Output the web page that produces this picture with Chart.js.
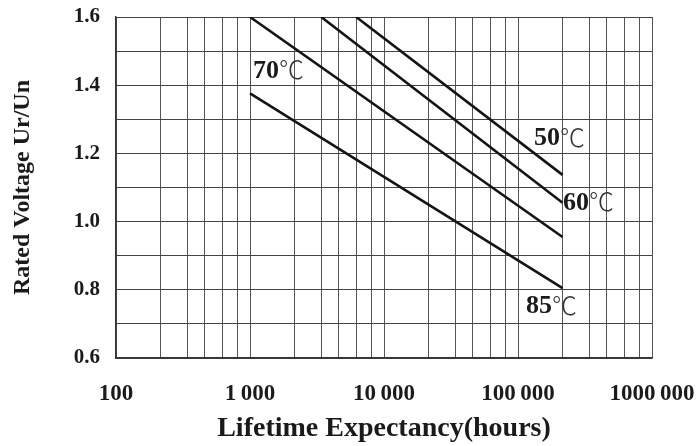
<!DOCTYPE html>
<html>
<head>
<meta charset="utf-8">
<script src="https://cdn.jsdelivr.net/npm/chart.js@4.4.0/dist/chart.umd.min.js"></script>
<style>
html,body{margin:0;padding:0;background:#fff;}
#wrap{width:698px;height:446px;}
</style>
</head>
<body>
<div id="wrap"><canvas id="c" width="698" height="446"></canvas></div>
<script>
// ---- data ----
const seriesNames = ['50℃', '60℃', '70℃', '85℃'];
const hours50 = [6200, 215000];
const volts50 = [1.6, 1.137];
const hours60 = [3400, 215000];
const volts60 = [1.6, 1.055];
const hours70 = [1000, 215000];
const volts70 = [1.6, 0.955];
const hours85 = [1000, 215000];
const volts85 = [1.376, 0.805];

// x axis: decades with labels, plus the chart's own minor grid divisions
const decadeValues = [100, 1000, 10000, 100000, 1000000];
const decadeLabels = ['100', '1\u2009000', '10\u2009000', '100\u2009000', '1000\u2009000'];
const minorMultipliers = [2.15, 3.4, 4.6, 6.2, 8.1];
// y axis
const yTickValues = [0.6, 0.8, 1.0, 1.2, 1.4, 1.6];

const SERIF = '"Liberation Serif", "Times New Roman", serif';

function pts(xs, ys) { return xs.map((x, i) => ({x: x, y: ys[i]})); }
const allHours = [hours50, hours60, hours70, hours85];
const allVolts = [volts50, volts60, volts70, volts85];

const datasets = seriesNames.map((name, i) => ({
  label: name,
  data: pts(allHours[i], allVolts[i]),
  borderColor: '#141414',
  borderWidth: 2.6,
  pointRadius: 0,
  fill: false,
  tension: 0
}));

const xTicks = [];
decadeValues.forEach((d, i) => {
  xTicks.push({value: d, label: decadeLabels[i]});
  if (i < decadeValues.length - 1) {
    minorMultipliers.forEach(m => xTicks.push({value: d * m, label: ''}));
  }
});

// temperature labels placed in data coordinates
const notes = [
  {num: '70', x: 1052, y: 1.445},
  {num: '50', x: 131500, y: 1.248},
  {num: '60', x: 216700, y: 1.0575},
  {num: '85', x: 114800, y: 0.755}
];

const notePlugin = {
  id: 'notes',
  afterDatasetsDraw(chart) {
    const ctx = chart.ctx;
    const xs = chart.scales.x, ys = chart.scales.y;
    ctx.save();
    ctx.textBaseline = 'middle';
    ctx.textAlign = 'left';
    notes.forEach(n => {
      const px = xs.getPixelForValue(n.x);
      const py = ys.getPixelForValue(n.y);
      ctx.fillStyle = '#1a1a1a';
      ctx.font = 'bold 26px ' + SERIF;
      ctx.fillText(n.num, px, py + 1);
      const w = ctx.measureText(n.num).width;
      ctx.font = '300 25px "Noto Sans CJK SC", "DejaVu Serif", serif';
      ctx.fillStyle = '#333';
      ctx.fillText('℃', px + w, py);
    });
    ctx.restore();
  }
};

new Chart(document.getElementById('c'), {
  type: 'line',
  data: {datasets: datasets},
  plugins: [notePlugin],
  options: {
    responsive: false,
    animation: false,
    layout: {padding: {left: 0, right: 46, top: 17, bottom: 0}},
    plugins: {legend: {display: false}, tooltip: {enabled: false}},
    scales: {
      x: {
        type: 'logarithmic',
        min: 100,
        max: 1000000,
        afterBuildTicks(scale) {
          scale.ticks = xTicks.map(t => ({value: t.value, major: false}));
        },
        afterFit(scale) {
          scale.height = 88;
          scale.paddingLeft = 0; scale.paddingRight = 0;
          scale.paddingTop = 0; scale.paddingBottom = 0;
        },
        ticks: {
          autoSkip: false,
          maxRotation: 0,
          minRotation: 0,
          padding: 22,
          color: '#1a1a1a',
          font: {family: SERIF, size: 23, weight: 'bold'},
          callback(value) {
            const idx = decadeValues.findIndex(d => Math.abs(d - value) / d < 1e-6);
            return idx >= 0 ? decadeLabels[idx] : '';
          }
        },
        grid: {color: '#555', lineWidth: 1, drawTicks: false},
        border: {color: '#333', width: 1.5},
        title: {
          display: true,
          text: 'Lifetime Expectancy(hours)',
          color: '#1a1a1a',
          font: {family: SERIF, size: 28, weight: 'bold'},
          padding: {top: 0, bottom: 0}
        }
      },
      y: {
        type: 'linear',
        min: 0.6,
        max: 1.6,
        afterBuildTicks(scale) {
          const t = [];
          for (let k = 6; k <= 16; k++) t.push({value: k / 10});
          scale.ticks = t;
        },
        afterFit(scale) {
          scale.width = 116;
          scale.paddingLeft = 0; scale.paddingRight = 0;
          scale.paddingTop = 0; scale.paddingBottom = 0;
        },
        ticks: {
          padding: 16,
          color: '#1a1a1a',
          font: {family: SERIF, size: 21, weight: 'bold'},
          callback(value) {
            const hit = yTickValues.find(v => Math.abs(v - value) < 1e-6);
            return hit !== undefined ? hit.toFixed(1) : '';
          }
        },
        grid: {color: '#444', lineWidth: 1, drawTicks: false},
        border: {color: '#333', width: 1.5},
        title: {
          display: true,
          text: 'Rated Voltage Ur/Un',
          color: '#1a1a1a',
          font: {family: SERIF, size: 24, weight: 'bold'},
          padding: {top: 8, bottom: 0}
        }
      }
    }
  }
});
</script>
</body>
</html>
